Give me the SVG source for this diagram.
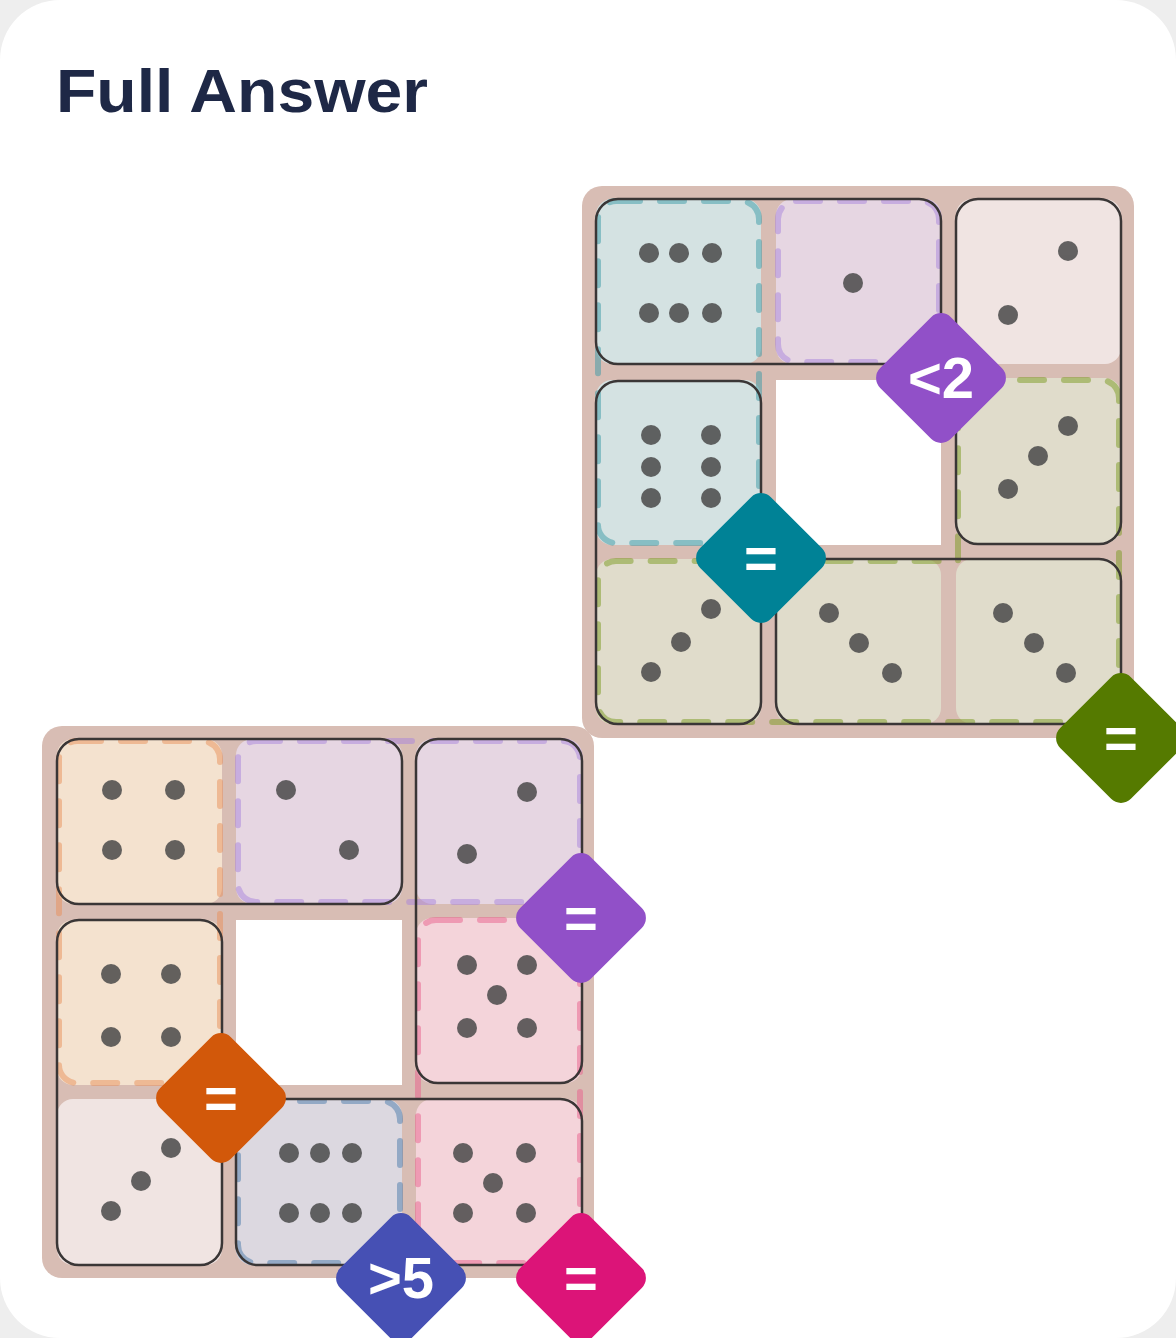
<svg xmlns="http://www.w3.org/2000/svg" width="1176" height="1338" viewBox="0 0 1176 1338">
<style>
.board{fill:#d8bdb4}
.c{stroke:none}
.dom{fill:none;stroke:#3a3636;stroke-width:2.5}
.reg{fill:none;stroke-width:6;stroke-dasharray:24 20;stroke-linecap:round;opacity:.5}
.p{fill:#4a4a4a;opacity:.85}
.lbl{font-family:"Liberation Sans",Arial,sans-serif;font-weight:bold;font-size:58px;fill:#fff;text-anchor:middle}
</style>
<rect width="1176" height="1338" fill="#eeeeee"/>
<rect x="0" y="0" width="1176" height="1338" rx="60" fill="#ffffff"/>
<text x="56" y="112" font-family="Liberation Sans,Arial,sans-serif" font-weight="bold" font-size="62" fill="#1e2846" textLength="372" lengthAdjust="spacingAndGlyphs">Full Answer</text>

<g id="board1">
<rect class="board" x="582" y="186" width="552" height="552" rx="20"/>
<rect x="776" y="380" width="165" height="165" fill="#fff"/>
<rect class="c" x="596" y="199" width="165" height="165" rx="16" fill="#d4e2e2"/>
<rect class="c" x="776" y="199" width="165" height="165" rx="16" fill="#e6d6e2"/>
<rect class="c" x="956" y="199" width="165" height="165" rx="16" fill="#f0e4e2"/>
<rect class="c" x="596" y="380" width="165" height="165" rx="16" fill="#d4e2e2"/>
<rect class="c" x="956" y="378" width="165" height="165" rx="16" fill="#e0dccb"/>
<rect class="c" x="596" y="559" width="165" height="165" rx="16" fill="#e0dccb"/>
<rect class="c" x="776" y="559" width="165" height="165" rx="16" fill="#e0dccb"/>
<rect class="c" x="956" y="559" width="165" height="165" rx="16" fill="#e0dccb"/>
<rect class="reg" stroke="#3a9aa6" x="598" y="201" width="161" height="342" rx="18"/>
<rect class="reg" stroke="#a884dc" x="778" y="201" width="161" height="161" rx="18"/>
<path class="reg" stroke="#7a9a20" d="M976 380 H1101 A18 18 0 0 1 1119 398 V704 A18 18 0 0 1 1101 722 H616 A18 18 0 0 1 598 704 V579 A18 18 0 0 1 616 561 H958 V398 A18 18 0 0 1 976 380 Z"/>
<rect class="dom" x="596" y="199" width="345" height="165" rx="22"/>
<rect class="dom" x="956" y="199" width="165" height="345" rx="22"/>
<rect class="dom" x="596" y="381" width="165" height="343" rx="22"/>
<rect class="dom" x="776" y="559" width="345" height="165" rx="22"/>
<g class="p">
<circle cx="649" cy="253" r="10"/><circle cx="679" cy="253" r="10"/><circle cx="712" cy="253" r="10"/>
<circle cx="649" cy="313" r="10"/><circle cx="679" cy="313" r="10"/><circle cx="712" cy="313" r="10"/>
<circle cx="853" cy="283" r="10"/>
<circle cx="1068" cy="251" r="10"/><circle cx="1008" cy="315" r="10"/>
<circle cx="651" cy="435" r="10"/><circle cx="711" cy="435" r="10"/><circle cx="651" cy="467" r="10"/><circle cx="711" cy="467" r="10"/><circle cx="651" cy="498" r="10"/><circle cx="711" cy="498" r="10"/>
<circle cx="1068" cy="426" r="10"/><circle cx="1038" cy="456" r="10"/><circle cx="1008" cy="489" r="10"/>
<circle cx="711" cy="609" r="10"/><circle cx="681" cy="642" r="10"/><circle cx="651" cy="672" r="10"/>
<circle cx="829" cy="613" r="10"/><circle cx="859" cy="643" r="10"/><circle cx="892" cy="673" r="10"/>
<circle cx="1003" cy="613" r="10"/><circle cx="1034" cy="643" r="10"/><circle cx="1066" cy="673" r="10"/>
</g>
</g>

<g id="board2">
<rect class="board" x="42" y="726" width="552" height="552" rx="20"/>
<rect x="236" y="920" width="166" height="165" fill="#fff"/>
<rect class="c" x="57" y="739" width="165" height="165" rx="16" fill="#f4e2cf"/>
<rect class="c" x="236" y="739" width="166" height="165" rx="16" fill="#e6d6e2"/>
<rect class="c" x="416" y="739" width="166" height="165" rx="16" fill="#e6d6e2"/>
<rect class="c" x="57" y="920" width="165" height="165" rx="16" fill="#f4e2cf"/>
<rect class="c" x="416" y="918" width="166" height="165" rx="16" fill="#f4d4da"/>
<rect class="c" x="57" y="1099" width="165" height="166" rx="16" fill="#f0e4e2"/>
<rect class="c" x="236" y="1099" width="166" height="166" rx="16" fill="#dcd8e0"/>
<rect class="c" x="416" y="1099" width="166" height="166" rx="16" fill="#f4d4da"/>
<rect class="reg" stroke="#e8905a" x="59" y="741" width="161" height="342" rx="18"/>
<path class="reg" stroke="#a884dc" d="M256 741 H562 A18 18 0 0 1 580 759 V884 A18 18 0 0 1 562 902 H256 A18 18 0 0 1 238 884 V759 A18 18 0 0 1 256 741 Z"/>
<rect class="reg" stroke="#e8608c" x="418" y="920" width="162" height="343" rx="18"/>
<rect class="reg" stroke="#4a7aaa" x="238" y="1101" width="162" height="162" rx="18"/>
<rect class="dom" x="57" y="739" width="345" height="165" rx="22"/>
<rect class="dom" x="416" y="739" width="166" height="344" rx="22"/>
<rect class="dom" x="57" y="920" width="165" height="345" rx="22"/>
<rect class="dom" x="236" y="1099" width="346" height="166" rx="22"/>
<g class="p">
<circle cx="112" cy="790" r="10"/><circle cx="175" cy="790" r="10"/><circle cx="112" cy="850" r="10"/><circle cx="175" cy="850" r="10"/>
<circle cx="286" cy="790" r="10"/><circle cx="349" cy="850" r="10"/>
<circle cx="527" cy="792" r="10"/><circle cx="467" cy="854" r="10"/>
<circle cx="111" cy="974" r="10"/><circle cx="171" cy="974" r="10"/><circle cx="111" cy="1037" r="10"/><circle cx="171" cy="1037" r="10"/>
<circle cx="467" cy="965" r="10"/><circle cx="527" cy="965" r="10"/><circle cx="497" cy="995" r="10"/><circle cx="467" cy="1028" r="10"/><circle cx="527" cy="1028" r="10"/>
<circle cx="171" cy="1148" r="10"/><circle cx="141" cy="1181" r="10"/><circle cx="111" cy="1211" r="10"/>
<circle cx="289" cy="1153" r="10"/><circle cx="320" cy="1153" r="10"/><circle cx="352" cy="1153" r="10"/><circle cx="289" cy="1213" r="10"/><circle cx="320" cy="1213" r="10"/><circle cx="352" cy="1213" r="10"/>
<circle cx="463" cy="1153" r="10"/><circle cx="526" cy="1153" r="10"/><circle cx="493" cy="1183" r="10"/><circle cx="463" cy="1213" r="10"/><circle cx="526" cy="1213" r="10"/>
</g>
</g>

<g id="badges">
<g id="b1"><rect x="-50" y="-50" width="100" height="100" rx="14" fill="#9150c8" transform="translate(941,378) rotate(45)"/><text class="lbl" x="941" y="398">&lt;2</text></g>
<g id="b2"><rect x="-50" y="-50" width="100" height="100" rx="14" fill="#008296" transform="translate(761,558) rotate(45)"/><text class="lbl" x="761" y="578">=</text></g>
<g id="b3"><rect x="-50" y="-50" width="100" height="100" rx="14" fill="#557a00" transform="translate(1121,738) rotate(45)"/><text class="lbl" x="1121" y="758">=</text></g>
<g id="b4"><rect x="-50" y="-50" width="100" height="100" rx="14" fill="#9150c8" transform="translate(581,918) rotate(45)"/><text class="lbl" x="581" y="938">=</text></g>
<g id="b5"><rect x="-50" y="-50" width="100" height="100" rx="14" fill="#d2580a" transform="translate(221,1098) rotate(45)"/><text class="lbl" x="221" y="1118">=</text></g>
<g id="b6"><rect x="-50" y="-50" width="100" height="100" rx="14" fill="#4650b4" transform="translate(401,1278) rotate(45)"/><text class="lbl" x="401" y="1298">&gt;5</text></g>
<g id="b7"><rect x="-50" y="-50" width="100" height="100" rx="14" fill="#dc1478" transform="translate(581,1278) rotate(45)"/><text class="lbl" x="581" y="1298">=</text></g>
</g>
</svg>
